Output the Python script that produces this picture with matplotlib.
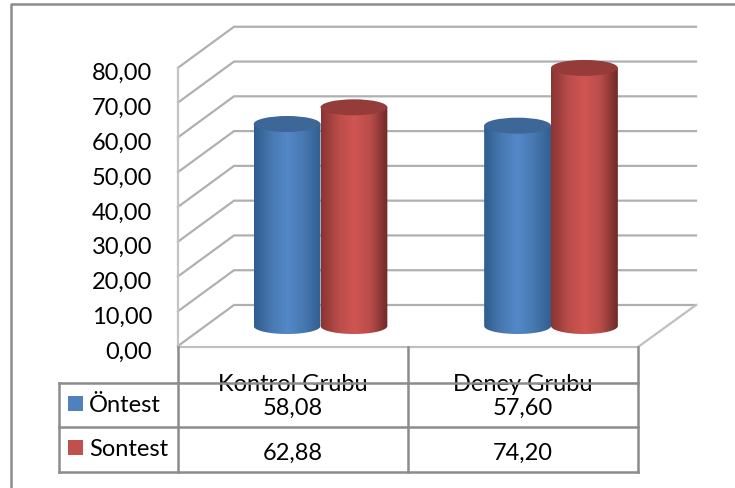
import matplotlib
matplotlib.use('Agg')
import matplotlib.pyplot as plt
import matplotlib.patches as patches
import numpy as np

categories = ['Kontrol Grubu', 'Deney Grubu']
series_names = ['Öntest', 'Sontest']
ontest = [58.08, 57.60]
sontest = [62.88, 74.20]
yticks = [0, 10, 20, 30, 40, 50, 60, 70, 80]

W, H = 735, 489
PX_PER_UNIT = 3.478      # pixels per value unit
BASE_PX = 327            # pixel row of value 0 at the cylinder axis
GROUP_PX = (320.5, 551)  # pixel column of the two groups
BAR_W = 0.29             # in group units
ELL_H = 4.6              # in value units
FS = 17

plt.rcParams['font.family'] = ['Lato', 'DejaVu Sans']


def fmt(v):
    return f'{v:.2f}'.replace('.', ',')


def draw_cylinder(ax, x, value, stops, top):
    cmap = matplotlib.colors.LinearSegmentedColormap.from_list('c', stops)
    grad = np.linspace(0, 1, 64).reshape(1, -1)
    left, right = x - BAR_W / 2, x + BAR_W / 2
    t = np.linspace(np.pi, 2 * np.pi, 40)
    xs = x + BAR_W / 2 * np.cos(t)
    ys = ELL_H / 2 * np.sin(t)
    outline = np.column_stack([np.r_[xs, right, left], np.r_[ys, value, value]])
    body = patches.Polygon(outline, closed=True, transform=ax.transData, facecolor='none', edgecolor='none')
    ax.add_patch(body)
    im = ax.imshow(grad, extent=(left, right, -ELL_H, value), aspect='auto', cmap=cmap,
                   interpolation='bilinear', zorder=2)
    im.set_clip_path(body)
    ax.add_patch(patches.Ellipse((x, value), BAR_W, ELL_H, facecolor=top, edgecolor='none', zorder=2))


fig = plt.figure(figsize=(W / 100, H / 100), dpi=100, facecolor='white')

# chrome layer in pixel coordinates
bg = fig.add_axes([0, 0, 1, 1])
bg.set_xlim(0, W)
bg.set_ylim(H, 0)
bg.axis('off')

grid = '#b0b0b0'
line = '#8c8c8c'

# outer frame
bg.plot([11, 11, 735], [489, 5, 5], color=line, lw=1.8, solid_capstyle='butt')

# walls and floor
for v in yticks:
    back = 306 - v * PX_PER_UNIT
    front = 347 - v * PX_PER_UNIT
    bg.plot([178, 234, 696], [front, back, back], color=grid, lw=1.6, solid_joinstyle='miter')
bg.plot([178, 178], [347 - 80 * PX_PER_UNIT, 347], color='#c4c4c4', lw=1.6)
bg.plot([178, 638, 696], [348, 348, 306], color='#c0c0c0', lw=1.6)

# data table
for x in [178, 408, 638]:
    bg.plot([x, x], [348, 473], color=line, lw=1.8, zorder=3)
bg.plot([59, 59], [384, 473], color=line, lw=1.8, zorder=3)
for y in [384, 428, 473]:
    bg.plot([59, 638], [y, y], color=line, lw=1.8, zorder=3)

# y tick labels
for v in yticks:
    bg.text(152, 352 - v * PX_PER_UNIT, fmt(v), ha='right', va='center', fontsize=FS, color='black')

# table text
centers = [293, 523]
for c, name, a, b in zip(centers, categories, ontest, sontest):
    bg.text(c, 391, name, ha='center', va='baseline', fontsize=FS, color='black', zorder=2)
    bg.text(c, 415, fmt(a), ha='center', va='baseline', fontsize=FS, color='black', zorder=4)
    bg.text(c, 460, fmt(b), ha='center', va='baseline', fontsize=FS, color='black', zorder=4)

colors = ['#4F81BD', '#C0504D']
for y, name, col in zip([404.5, 448.5], series_names, colors):
    bg.add_patch(patches.Rectangle((68, y - 7.5), 15, 15, facecolor=col, edgecolor='none', zorder=4))
    bg.text(89, y + 7, name, ha='left', va='baseline', fontsize=FS, color='black', zorder=4)

# cylinders, value scale on x = group index, y = value
blue_stops = ['#2f5d8f', '#4778b0', '#5388c9', '#4778b0', '#315f90']
red_stops = ['#8a3533', '#b84c49', '#d05653', '#b84c49', '#702b29']
ax = fig.add_axes([0, 0, 1, 1], zorder=2)
ax.patch.set_alpha(0)
ax.axis('off')
for i in range(len(categories)):
    draw_cylinder(ax, i - BAR_W / 2, ontest[i], blue_stops, '#3c6796')
    draw_cylinder(ax, i + BAR_W / 2, sontest[i], red_stops, '#953b39')
span = GROUP_PX[1] - GROUP_PX[0]
ax.set_xlim(-GROUP_PX[0] / span, (W - GROUP_PX[0]) / span)
ax.set_ylim(-(H - BASE_PX) / PX_PER_UNIT, BASE_PX / PX_PER_UNIT)

fig.savefig('out.png', dpi=100, facecolor='white')
plt.close(fig)
